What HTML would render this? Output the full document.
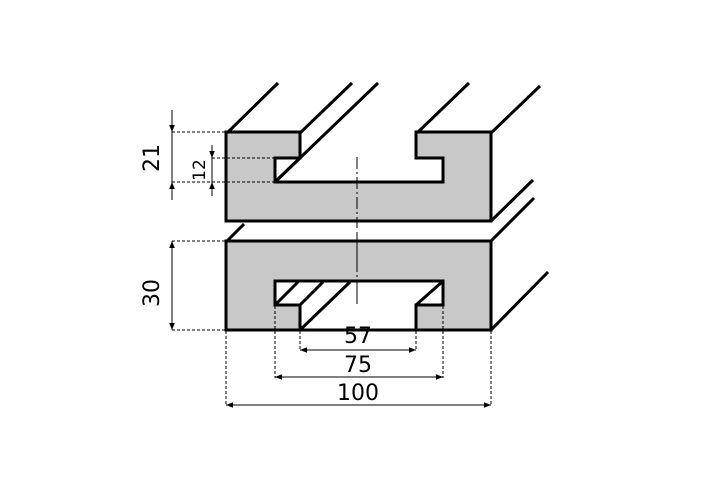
<!DOCTYPE html>
<html><head><meta charset="utf-8"><style>
html,body{margin:0;padding:0;background:#fff;}
svg{display:block;}
text{font-family:"DejaVu Sans","Liberation Sans",sans-serif;fill:#000;}
</style></head><body>
<svg width="711" height="486" viewBox="0 0 711 486" xmlns="http://www.w3.org/2000/svg">
<defs>
<marker id="a" viewBox="0 0 10 10" refX="10" refY="5" markerWidth="7" markerHeight="7" orient="auto-start-reverse"><path d="M0,1 L10,5 L0,9 z" fill="#000"/></marker>
</defs>
<!-- depth lines -->
<g stroke="#000" stroke-width="3" fill="none">
<line x1="227" y1="133" x2="278" y2="83"/>
<line x1="300" y1="133" x2="352" y2="83"/>
<line x1="275" y1="182" x2="378" y2="83"/>
<line x1="417" y1="133" x2="469" y2="83"/>
<line x1="491" y1="133" x2="540" y2="86"/>
<line x1="491" y1="221" x2="533" y2="180"/>
<line x1="227" y1="241" x2="244" y2="224"/>
<line x1="491" y1="241" x2="534" y2="198"/>
<line x1="491" y1="330" x2="548" y2="272"/>
</g>
<!-- top block -->
<polygon points="226,132 300,132 300,158 275,158 275,182 443,182 443,158 416,158 416,132 491,132 491,221 226,221" fill="#c8c8c8" stroke="#000" stroke-width="3" stroke-linejoin="miter"/>
<line x1="275" y1="182" x2="300" y2="158" stroke="#000" stroke-width="3"/>
<!-- bottom block -->
<polygon points="226,241 491,241 491,330 416,330 416,305 443,305 443,281 275,281 275,305 300,305 300,330 226,330" fill="#c8c8c8" stroke="#000" stroke-width="3"/>
<polygon points="275,281 443,281 443,305 416,305 416,330 300,330 300,305 275,305" fill="#fff" stroke="#000" stroke-width="3"/>
<g stroke="#000" stroke-width="3">
<line x1="276" y1="304" x2="298" y2="282"/>
<line x1="300" y1="305" x2="323" y2="282"/>
<line x1="300" y1="330" x2="350" y2="282"/>
<line x1="416" y1="305" x2="442" y2="282"/>
</g>
<!-- center lines -->
<line x1="357" y1="157" x2="357" y2="228" stroke="#000" stroke-width="1" stroke-dasharray="12,3,2,3"/>
<line x1="357" y1="232" x2="357" y2="304" stroke="#000" stroke-width="1" stroke-dasharray="40,3,2,3"/>
<!-- dashed extension lines -->
<g stroke="#000" stroke-width="1" stroke-dasharray="3,2" fill="none">
<line x1="172" y1="132" x2="226" y2="132"/>
<line x1="172" y1="182" x2="275" y2="182"/>
<line x1="212" y1="158" x2="275" y2="158"/>
<line x1="172" y1="241" x2="226" y2="241"/>
<line x1="172" y1="330" x2="226" y2="330"/>
<line x1="226" y1="331" x2="226" y2="406"/>
<line x1="275" y1="306" x2="275" y2="378"/>
<line x1="300" y1="331" x2="300" y2="350"/>
<line x1="416" y1="331" x2="416" y2="350"/>
<line x1="443" y1="306" x2="443" y2="378"/>
<line x1="491" y1="331" x2="491" y2="406"/>
</g>
<!-- dimension lines -->
<g stroke="#000" stroke-width="1" fill="none">
<line x1="172" y1="110" x2="172" y2="132" marker-end="url(#a)"/>
<line x1="172" y1="200" x2="172" y2="182" marker-end="url(#a)"/>
<line x1="172" y1="132" x2="172" y2="182"/>
<line x1="212" y1="145" x2="212" y2="158" marker-end="url(#a)"/>
<line x1="212" y1="196" x2="212" y2="182" marker-end="url(#a)"/>
<line x1="212" y1="158" x2="212" y2="182"/>
<line x1="172" y1="241" x2="172" y2="330" marker-start="url(#a)" marker-end="url(#a)"/>
<line x1="300" y1="350" x2="416" y2="350" marker-start="url(#a)" marker-end="url(#a)"/>
<line x1="275" y1="377" x2="443" y2="377" marker-start="url(#a)" marker-end="url(#a)"/>
<line x1="226" y1="405" x2="491" y2="405" marker-start="url(#a)" marker-end="url(#a)"/>
</g>
<!-- labels -->
<text x="159" y="158" font-size="22" text-anchor="middle" transform="rotate(-90 159 158)">21</text>
<text x="205" y="170" font-size="17" text-anchor="middle" transform="rotate(-90 205 170)">12</text>
<text x="159" y="293" font-size="22" text-anchor="middle" transform="rotate(-90 159 293)">30</text>
<text x="358" y="343" font-size="22" text-anchor="middle">57</text>
<text x="358" y="372" font-size="22" text-anchor="middle">75</text>
<text x="358" y="400" font-size="22" text-anchor="middle">100</text>
</svg>
</body></html>
